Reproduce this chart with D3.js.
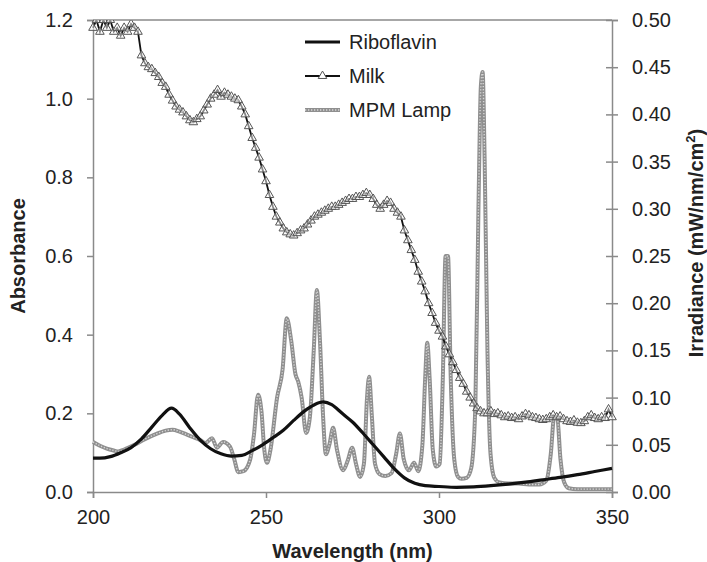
<!DOCTYPE html>
<html><head><meta charset="utf-8">
<script src="https://cdn.jsdelivr.net/npm/d3@7/dist/d3.min.js"></script>
<style>
body{margin:0;background:#fff;}
svg{display:block;font-family:"Liberation Sans",Arial,Helvetica,sans-serif;}
</style></head>
<body>
<svg id="chart" width="707" height="562"></svg>
<script>
// ---------- data ----------
const xTicks = [200, 250, 300, 350];
const leftTicks = [0, 0.2, 0.4, 0.6, 0.8, 1.0, 1.2];
const rightTicks = [0, 0.05, 0.10, 0.15, 0.20, 0.25, 0.30, 0.35, 0.40, 0.45, 0.50];
const seriesNames = ["Riboflavin", "Milk", "MPM Lamp"];

// Riboflavin absorbance
const riboWl  = [200,202,205,208,211,214,217,220,222.7,225,228,231,234,237,240,243,246,249,252,255,258,261,264,266.5,269,272,275,278,281,284,287,290,293,296,300,305,310,315,320,325,330,335,340,345,350];
const riboAbs = [0.086,0.086,0.09,0.1,0.113,0.135,0.165,0.195,0.213,0.198,0.163,0.132,0.11,0.097,0.091,0.093,0.105,0.12,0.138,0.157,0.182,0.205,0.222,0.229,0.222,0.2,0.178,0.15,0.12,0.09,0.06,0.036,0.022,0.016,0.014,0.012,0.013,0.016,0.02,0.025,0.031,0.037,0.044,0.052,0.06];

// Milk absorbance, 1 nm steps from 200 to 350
const milkWl = d3.range(200, 351, 1);
const milkAbs = [
1.18,1.2,1.17,1.2,1.18,1.2,1.17,1.18,1.16,1.18,
1.17,1.19,1.18,1.17,1.11,1.09,1.08,1.075,1.065,1.055,
1.04,1.03,1.01,0.995,0.98,0.972,0.965,0.955,0.945,0.94,
0.948,0.955,0.97,0.985,1.0,1.01,1.022,1.005,1.015,1.01,
1.005,1.0,0.996,0.98,0.96,0.93,0.9,0.875,0.85,0.82,
0.79,0.755,0.725,0.70,0.685,0.67,0.66,0.655,0.652,0.658,
0.665,0.67,0.68,0.69,0.7,0.705,0.71,0.715,0.72,0.725,
0.725,0.73,0.735,0.74,0.745,0.745,0.75,0.75,0.755,0.76,
0.755,0.745,0.73,0.72,0.73,0.74,0.735,0.72,0.71,0.70,
0.665,0.64,0.615,0.59,0.56,0.535,0.51,0.48,0.455,0.43,
0.41,0.395,0.37,0.35,0.33,0.31,0.29,0.275,0.255,0.24,
0.225,0.213,0.205,0.2,0.2,0.205,0.198,0.2,0.195,0.19,
0.192,0.188,0.19,0.185,0.192,0.198,0.195,0.19,0.188,0.185,
0.183,0.185,0.19,0.195,0.19,0.192,0.185,0.18,0.178,0.182,
0.176,0.175,0.18,0.19,0.195,0.188,0.185,0.19,0.188,0.21,
0.19];

// MPM lamp irradiance (mW/nm/cm2)
const lampWl  = [200,202,204,206,207.3,209,212,215,218,221,223,225,227,229,231,232.5,234.4,235.8,237.6,239.6,240.8,242,243.5,245.4,246.5,247.7,248.7,249.5,250.3,251.3,253.2,254.8,256,257.3,258.5,259.3,260.3,261.6,262.7,263.8,264.7,265.6,266.5,267.3,268.3,269.4,270.5,272.3,273.6,274.9,276,277.2,278.3,279.2,279.8,280.6,281.5,282.8,284.5,286.3,287.6,288.7,289.8,291.3,292.8,294,295.2,296,296.6,297.3,298.2,299.2,300.2,301.1,301.9,302.6,303.4,304.4,305.5,306.5,308,309.3,310.5,311.4,312.1,312.6,313.2,314,314.9,316,317.5,320,323,326,329,331,332.3,333.3,334.2,335.1,336.2,337.5,340,345,350];
const lampIrr = [0.053,0.049,0.046,0.044,0.043,0.045,0.05,0.056,0.061,0.065,0.066,0.064,0.061,0.058,0.055,0.052,0.057,0.047,0.053,0.048,0.035,0.021,0.022,0.034,0.06,0.103,0.085,0.045,0.031,0.045,0.1,0.13,0.184,0.16,0.125,0.117,0.1,0.0625,0.08,0.15,0.214,0.16,0.08,0.04,0.05,0.068,0.045,0.023,0.033,0.047,0.03,0.016,0.03,0.1,0.122,0.08,0.03,0.019,0.017,0.02,0.04,0.062,0.035,0.023,0.031,0.022,0.05,0.12,0.158,0.12,0.045,0.027,0.03,0.12,0.25,0.25,0.12,0.035,0.016,0.014,0.015,0.025,0.09,0.3,0.43,0.445,0.35,0.15,0.04,0.015,0.01,0.009,0.009,0.008,0.008,0.012,0.04,0.08,0.078,0.035,0.01,0.004,0.003,0.003,0.003];

// ---------- layout ----------
const L = 93, R = 612, T = 20, B = 492;
const svg = d3.select("#chart");
const x = d3.scaleLinear().domain([200, 350]).range([L, R]);
const yL = d3.scaleLinear().domain([0, 1.2]).range([B, T]);
const yR = d3.scaleLinear().domain([0, 0.5]).range([B, T]);
const axisCol = "#8a8a8a", textCol = "#222";
const fs = 20;

svg.append("defs").append("clipPath").attr("id","clip")
  .append("rect").attr("x", L-10).attr("y", T).attr("width", R-L+20).attr("height", B-T+6);

// axes
const gx = svg.append("g").attr("transform", `translate(0,${B})`)
  .call(d3.axisBottom(x).tickValues(xTicks).tickSize(6).tickPadding(12).tickFormat(d3.format("d")));
const gl = svg.append("g").attr("transform", `translate(${L},0)`)
  .call(d3.axisLeft(yL).tickValues(leftTicks).tickSize(6).tickPadding(14).tickFormat(d3.format(".1f")));
const gr = svg.append("g").attr("transform", `translate(${R},0)`)
  .call(d3.axisRight(yR).tickValues(rightTicks).tickSize(6).tickPadding(14).tickFormat(d3.format(".2f")));
gr.selectAll(".tick line").attr("x1", -6);
[gx, gl, gr].forEach(g => {
  g.select(".domain").attr("stroke", axisCol).attr("stroke-width", 1.5);
  g.selectAll(".tick line").attr("stroke", axisCol).attr("stroke-width", 1.5);
  g.selectAll(".tick text").attr("fill", textCol).style("font-size", fs + "px").style("font-family", '"Liberation Sans",Arial,sans-serif');
});
// top border
svg.append("line").attr("x1", L).attr("x2", R).attr("y1", T).attr("y2", T)
  .attr("stroke", axisCol).attr("stroke-width", 1.5);

// titles
svg.append("text").attr("x", (L+R)/2).attr("y", 558).attr("text-anchor","middle")
  .attr("font-weight","bold").attr("font-size", fs).attr("fill", textCol).text("Wavelength (nm)");
svg.append("text").attr("transform","translate(25,256) rotate(-90)").attr("text-anchor","middle")
  .attr("font-weight","bold").attr("font-size", fs).attr("fill", textCol).text("Absorbance");
const rt = svg.append("text").attr("transform","translate(703,243) rotate(-90)").attr("text-anchor","middle")
  .attr("font-weight","bold").attr("font-size", fs).attr("fill", textCol);
rt.append("tspan").text("Irradiance (mW/nm/cm");
rt.append("tspan").attr("dy", -8).attr("font-size", 13).text("2");
rt.append("tspan").attr("dy", 8).text(")");

// lines
const plot = svg.append("g").attr("clip-path", "url(#clip)");
const lampData = lampWl.map((w, i) => [w, lampIrr[i]]);
const riboData = riboWl.map((w, i) => [w, riboAbs[i]]);
const milkData = milkWl.map((w, i) => [w, milkAbs[i]]);

const lampLine = d3.line().x(d => x(d[0])).y(d => yR(d[1])).curve(d3.curveMonotoneX);
plot.append("path").datum(lampData).attr("d", lampLine).attr("fill","none")
  .attr("stroke","#8f8f8f").attr("stroke-width",4).attr("stroke-linejoin","round");
plot.append("path").datum(lampData).attr("d", lampLine).attr("fill","none")
  .attr("stroke","#d6d6d6").attr("stroke-width",1.4).attr("stroke-dasharray","1.3,1.7");

const riboLine = d3.line().x(d => x(d[0])).y(d => yL(d[1])).curve(d3.curveMonotoneX);
plot.append("path").datum(riboData).attr("d", riboLine).attr("fill","none")
  .attr("stroke","#111").attr("stroke-width",3.2);

const milkLine = d3.line().x(d => x(d[0])).y(d => yL(d[1]));
plot.append("path").datum(milkData).attr("d", milkLine).attr("fill","none")
  .attr("stroke","#111").attr("stroke-width",1.8);
const tri = d3.symbol().type(d3.symbolTriangle).size(32);
plot.selectAll("path.tri").data(milkData).enter().append("path").attr("class","tri")
  .attr("transform", d => `translate(${x(d[0])},${yL(d[1])})`)
  .attr("d", tri).attr("fill","white").attr("fill-opacity",0.5)
  .attr("stroke","#555").attr("stroke-width",1);

// legend
const lg = svg.append("g");
const ly = [42, 76, 110];
const lx1 = 305, lx2 = 340;
lg.append("line").attr("x1",lx1).attr("x2",lx2).attr("y1",ly[0]).attr("y2",ly[0]).attr("stroke","#111").attr("stroke-width",3.2);
lg.append("line").attr("x1",lx1).attr("x2",lx2).attr("y1",ly[1]).attr("y2",ly[1]).attr("stroke","#111").attr("stroke-width",1.8);
lg.append("path").attr("transform",`translate(${(lx1+lx2)/2},${ly[1]})`).attr("d",tri).attr("fill","white").attr("stroke","#555").attr("stroke-width",1);
lg.append("line").attr("x1",lx1).attr("x2",lx2).attr("y1",ly[2]).attr("y2",ly[2]).attr("stroke","#8f8f8f").attr("stroke-width",4);
lg.append("line").attr("x1",lx1).attr("x2",lx2).attr("y1",ly[2]).attr("y2",ly[2]).attr("stroke","#d6d6d6").attr("stroke-width",1.4).attr("stroke-dasharray","1.3,1.7");
seriesNames.forEach((n, i) => {
  lg.append("text").attr("x", 349).attr("y", ly[i]).attr("dy","0.35em")
    .attr("font-size", fs).attr("fill", textCol).text(n);
});
</script>
</body></html>
